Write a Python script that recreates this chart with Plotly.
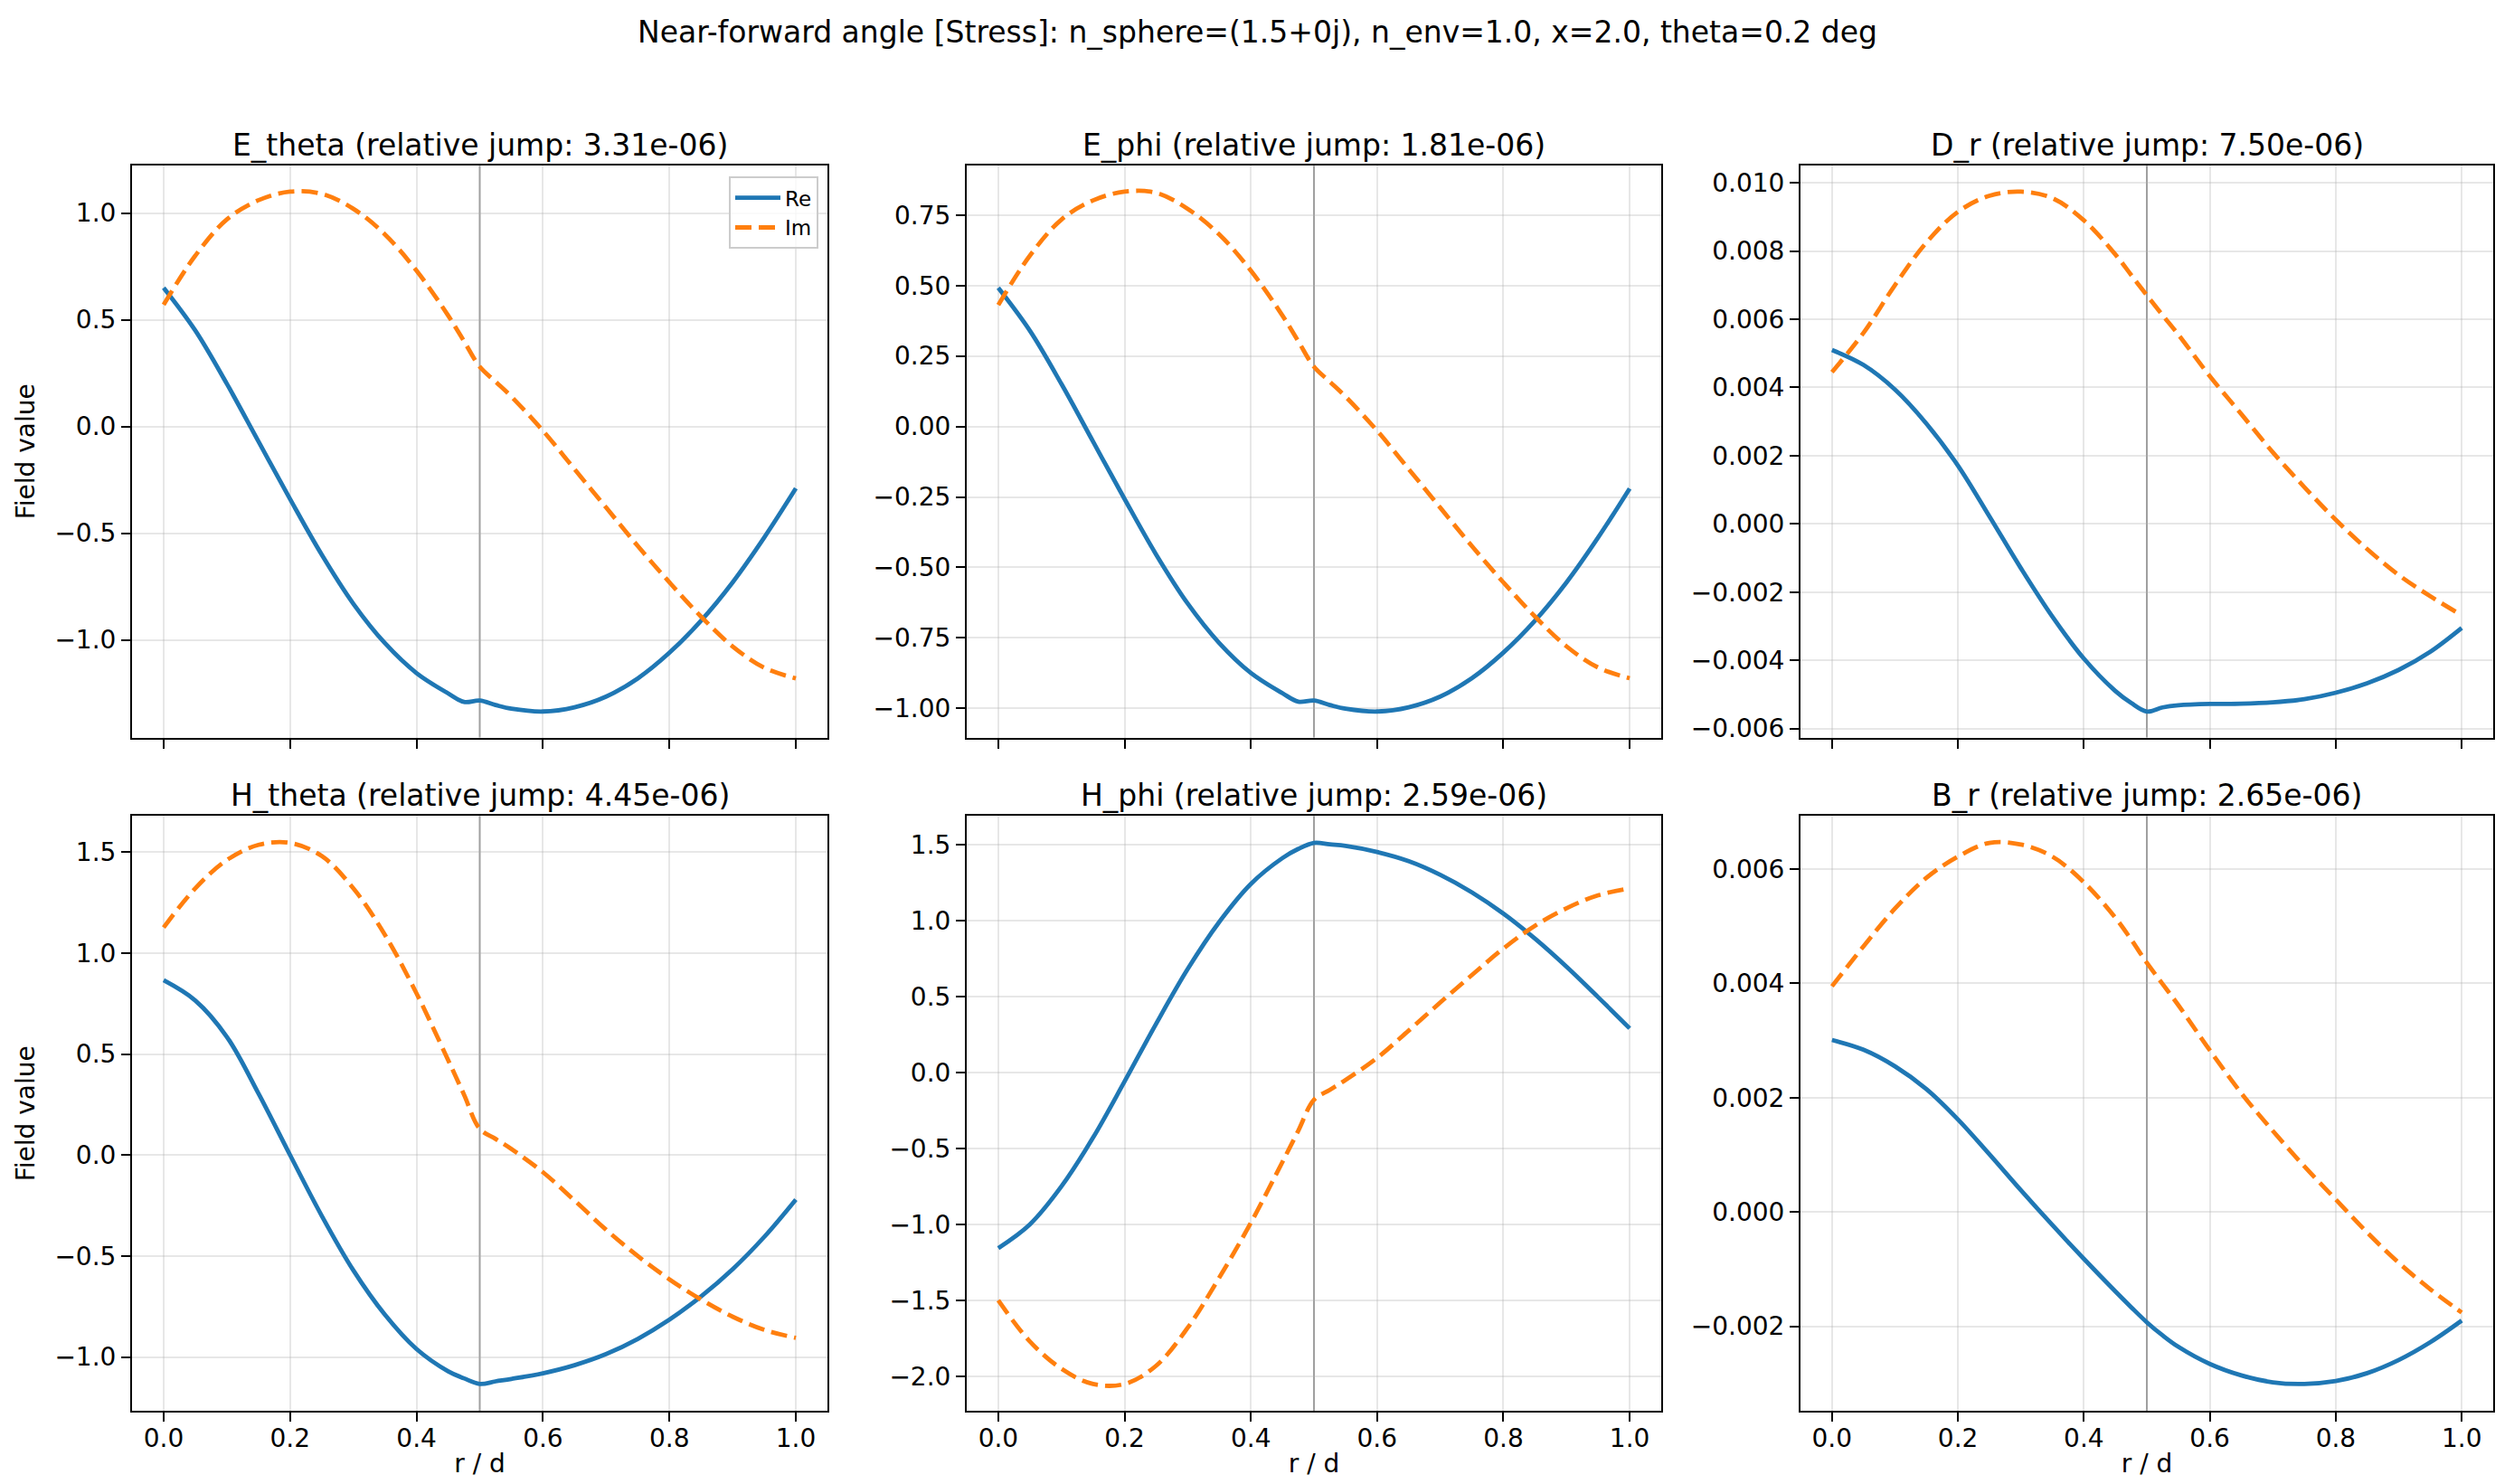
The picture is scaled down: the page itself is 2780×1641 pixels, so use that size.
import plotly.graph_objects as go
from plotly.subplots import make_subplots

# ---------------- data ----------------
r_over_d = [0.0, 0.05, 0.1, 0.15, 0.2, 0.25, 0.3, 0.35, 0.4, 0.45, 0.475, 0.5,
            0.525, 0.55, 0.6, 0.65, 0.7, 0.75, 0.8, 0.85, 0.9, 0.95, 1.0]

e_theta_re = [0.65, 0.45, 0.20, -0.07, -0.34, -0.60, -0.83, -1.015, -1.155, -1.25, -1.29, -1.284,
              -1.305, -1.322, -1.335, -1.315, -1.265, -1.18, -1.06, -0.91, -0.73, -0.52, -0.29]
e_theta_im = [0.57, 0.80, 0.97, 1.06, 1.10, 1.09, 1.02, 0.90, 0.73, 0.52, 0.40, 0.28,
              0.21, 0.14, -0.02, -0.20, -0.38, -0.56, -0.73, -0.89, -1.03, -1.13, -1.18]

e_phi_re = [0.492, 0.340, 0.151, -0.053, -0.257, -0.454, -0.628, -0.768, -0.874, -0.946, -0.976, -0.972,
            -0.988, -1.001, -1.011, -0.996, -0.958, -0.893, -0.802, -0.689, -0.553, -0.394, -0.220]
e_phi_im = [0.431, 0.606, 0.734, 0.802, 0.833, 0.829, 0.772, 0.681, 0.553, 0.394, 0.303, 0.212,
            0.159, 0.106, -0.015, -0.151, -0.288, -0.424, -0.553, -0.674, -0.780, -0.855, -0.893]

d_r_re = [0.00510, 0.00466, 0.00394, 0.00294, 0.00171, 0.00022, -0.00130, -0.00272, -0.00395, -0.00490,
          -0.00525, -0.00550, -0.00538, -0.00532, -0.00528, -0.00527, -0.00523, -0.00514, -0.00495,
          -0.00467, -0.00428, -0.00375, -0.00305]
d_r_im = [0.00445, 0.00560, 0.00700, 0.00825, 0.00915, 0.00962, 0.00974, 0.00955, 0.00890, 0.00790,
          0.00730, 0.00670, 0.00612, 0.00555, 0.00433, 0.00322, 0.00210, 0.00108, 0.00012, -0.00074,
          -0.00150, -0.00212, -0.00268]

h_theta_re = [0.865, 0.765, 0.585, 0.305, 0.0, -0.30, -0.57, -0.79, -0.96, -1.07, -1.105, -1.133,
              -1.12, -1.108, -1.08, -1.04, -0.985, -0.91, -0.815, -0.70, -0.565, -0.405, -0.22]
h_theta_im = [1.126, 1.32, 1.46, 1.535, 1.545, 1.48, 1.32, 1.09, 0.80, 0.47, 0.30, 0.13,
              0.08, 0.03, -0.085, -0.225, -0.37, -0.50, -0.615, -0.715, -0.80, -0.865, -0.905]

h_phi_re = [-1.156, -1.00, -0.75, -0.43, -0.06, 0.32, 0.68, 0.99, 1.24, 1.41, 1.47, 1.51,
            1.50, 1.49, 1.45, 1.39, 1.30, 1.185, 1.045, 0.88, 0.695, 0.495, 0.29]
h_phi_im = [-1.50, -1.77, -1.95, -2.05, -2.05, -1.93, -1.68, -1.35, -0.99, -0.59, -0.385, -0.18,
            -0.115, -0.05, 0.095, 0.275, 0.46, 0.64, 0.815, 0.965, 1.08, 1.165, 1.21]

b_r_re = [0.00301, 0.00284, 0.00255, 0.00215, 0.00162, 0.00101, 0.00038, -0.00023, -0.00082, -0.00139,
          -0.001665, -0.00193, -0.00216, -0.00236, -0.00266, -0.00286, -0.00298, -0.00301, -0.00296,
          -0.00282, -0.00259, -0.00228, -0.00190]
b_r_im = [0.00395, 0.00465, 0.00531, 0.00585, 0.00622, 0.00646, 0.00643, 0.00622, 0.00577, 0.00515,
          0.00477, 0.00436, 0.00399, 0.00362, 0.00283, 0.00208, 0.00142, 0.00080, 0.00022, -0.00036,
          -0.00089, -0.00135, -0.00176]

field_names = ["E_theta", "E_phi", "D_r", "H_theta", "H_phi", "B_r"]
relative_jumps = ["3.31e-06", "1.81e-06", "7.50e-06", "4.45e-06", "2.59e-06", "2.65e-06"]
re_series = [e_theta_re, e_phi_re, d_r_re, h_theta_re, h_phi_re, b_r_re]
im_series = [e_theta_im, e_phi_im, d_r_im, h_theta_im, h_phi_im, b_r_im]
y_dticks = [0.5, 0.25, 0.002, 0.5, 0.5, 0.002]
y_formats = [".1f", ".2f", ".3f", ".1f", ".1f", ".3f"]
x_ticks = [0.0, 0.2, 0.4, 0.6, 0.8, 1.0]
interface_r = 0.5
suptitle = "Near-forward angle [Stress]: n_sphere=(1.5+0j), n_env=1.0, x=2.0, theta=0.2 deg"

# ---------------- layout ----------------
W, H = 2780, 1641
FONT = "DejaVu Sans"
RE_COLOR = "#1f77b4"
IM_COLOR = "#ff7f0e"

x_domains = [[146 / W, 915 / W], [1069 / W, 1837 / W], [1991 / W, 2757 / W]]
y_domains = [[1 - 819 / H, 1 - 184 / H], [1 - 1567 / H, 1 - 906 / H]]

fig = make_subplots(rows=2, cols=3)

annotations = []
shapes = []
for i in range(6):
    row, col = i // 3, i % 3
    n = i + 1
    fig.add_trace(go.Scatter(
        x=r_over_d, y=re_series[i], mode="lines", name="Re",
        line=dict(color=RE_COLOR, width=4.8, shape="spline", smoothing=1.0),
        showlegend=(i == 0), legendrank=1,
    ), row=row + 1, col=col + 1)
    fig.add_trace(go.Scatter(
        x=r_over_d, y=im_series[i], mode="lines", name="Im",
        line=dict(color=IM_COLOR, width=4.8, dash="18px,8px", shape="spline", smoothing=1.0),
        showlegend=(i == 0), legendrank=2,
    ), row=row + 1, col=col + 1)

    allv = re_series[i] + im_series[i]
    lo, hi = min(allv), max(allv)
    pad = 0.05 * (hi - lo)

    axis_common = dict(
        showline=True, mirror=True, linecolor="black", linewidth=2,
        ticks="outside", ticklen=10, tickwidth=2, tickcolor="black",
        showgrid=True, gridcolor="rgba(176,176,176,0.3)", gridwidth=2,
        zeroline=False, tickfont=dict(size=28, color="black", family=FONT),
    )
    xkey = "xaxis" if n == 1 else f"xaxis{n}"
    ykey = "yaxis" if n == 1 else f"yaxis{n}"
    xa = dict(axis_common, domain=x_domains[col], range=[-0.05, 1.05],
              tickvals=x_ticks, tickformat=".1f", showticklabels=(row == 1),
              ticklabelstandoff=-6)
    if row == 1:
        xa["title"] = dict(text="r / d", font=dict(size=28, color="black", family=FONT), standoff=2)
    ya = dict(axis_common, domain=y_domains[row], range=[lo - pad, hi + pad],
              dtick=y_dticks[i], tick0=0, tickformat=y_formats[i])
    if col == 0:
        ya["title"] = dict(text="Field value", font=dict(size=28, color="black", family=FONT), standoff=14)
    fig.update_layout({xkey: xa, ykey: ya})

    shapes.append(dict(type="line", xref=f"x{n}" if n > 1 else "x",
                       yref=(f"y{n} domain" if n > 1 else "y domain"),
                       x0=interface_r, x1=interface_r, y0=0, y1=1,
                       line=dict(color="rgba(128,128,128,0.75)", width=2), layer="below"))

    annotations.append(dict(
        text=f"{field_names[i]} (relative jump: {relative_jumps[i]})",
        xref="paper", yref="paper",
        x=(x_domains[col][0] + x_domains[col][1]) / 2, y=y_domains[row][1],
        xanchor="center", yanchor="bottom", yshift=1, showarrow=False,
        font=dict(size=33, color="black", family=FONT),
    ))

annotations.append(dict(
    text=suptitle, xref="paper", yref="paper", x=0.5, y=1 - 36 / H,
    xanchor="center", yanchor="middle", showarrow=False,
    font=dict(size=33, color="black", family=FONT),
))

fig.update_layout(
    width=W, height=H,
    margin=dict(l=0, r=0, t=0, b=0),
    paper_bgcolor="white", plot_bgcolor="white",
    font=dict(family=FONT, color="black"),
    annotations=annotations,
    shapes=shapes,
    legend=dict(
        x=x_domains[0][1] - 10 / W, y=y_domains[0][1] - 12 / H,
        xanchor="right", yanchor="top",
        bgcolor="rgba(255,255,255,0.8)", bordercolor="#cccccc", borderwidth=2,
        font=dict(size=23, color="black", family=FONT),
        itemwidth=50, tracegroupgap=6,
    ),
)

fig.write_html("out.html")
